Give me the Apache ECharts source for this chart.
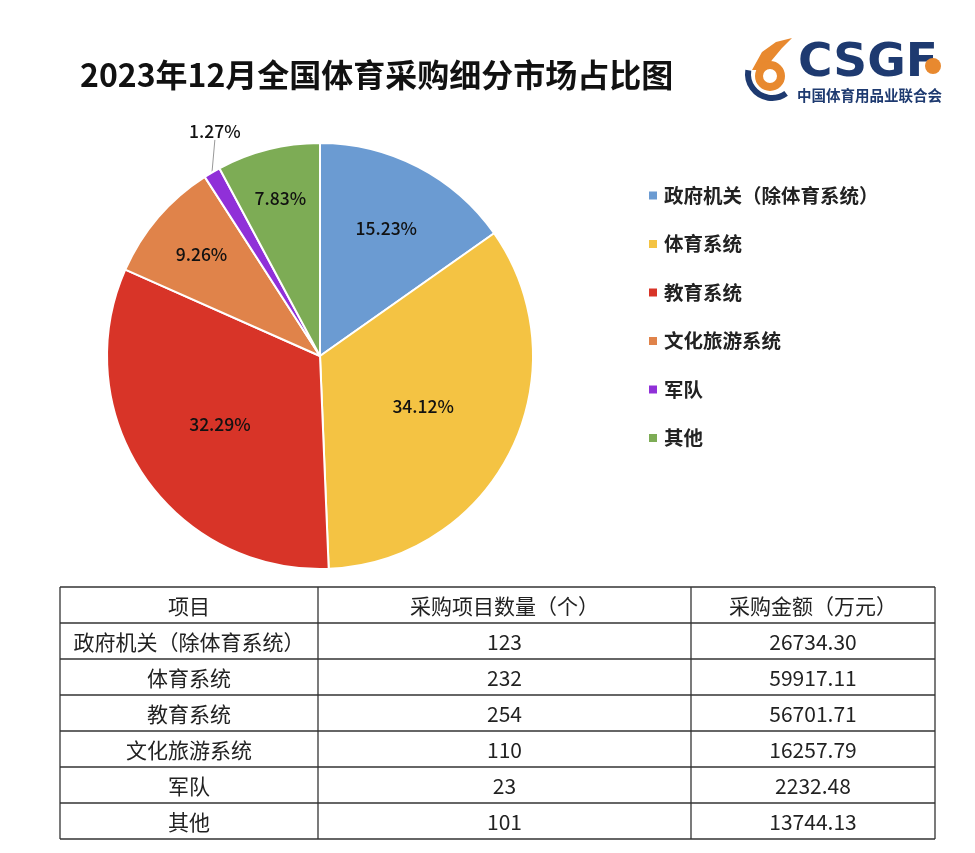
<!DOCTYPE html>
<html>
<head>
<meta charset="utf-8">
<script src="https://cdn.jsdelivr.net/npm/echarts@6/dist/echarts.min.js"></script>
<style>
  html, body { margin: 0; padding: 0; background: #fff; }
  #chart { width: 975px; height: 853px; }
</style>
</head>
<body>
<div id="chart"></div>
<script>
// data
const categories = ['政府机关（除体育系统）', '体育系统', '教育系统', '文化旅游系统', '军队', '其他'];
const projectCounts = [123, 232, 254, 110, 23, 101];
const amounts = [26734.30, 59917.11, 56701.71, 16257.79, 2232.48, 13744.13];
const tableHeaders = ['项目', '采购项目数量（个）', '采购金额（万元）'];
const titleText = '2023年12月全国体育采购细分市场占比图';

const colors = ['#6b9bd2', '#f4c343', '#d83428', '#e0834a', '#9030d8', '#7dac55'];
const FONT = '"Noto Sans CJK SC", "Noto Sans", sans-serif';
const NAVY = '#1e3a70';
const ORANGE = '#e8892f';

// pie layout
const pieCenter = [320, 356];
const pieRadius = 213;
// how far from the centre each inside label sits (px)
const labelDist = [144, 115, 121, 156, 0, 163];

// table layout
const colX = [60, 318, 691, 935];
const tableTop = 587;
const rowH = 36;

const chart = echarts.init(document.getElementById('chart'));

function tableGraphics() {
    const els = [];
    const rows = [tableHeaders].concat(categories.map((c, i) => [c, String(projectCounts[i]), amounts[i].toFixed(2)]));
    const bottom = tableTop + rowH * rows.length;
    for (let r = 0; r <= rows.length; r++) {
        const y = tableTop + r * rowH;
        els.push({ type: 'line', shape: { x1: colX[0], y1: y, x2: colX[3], y2: y },
            style: { stroke: '#333', lineWidth: 1.3 } });
    }
    colX.forEach(x => {
        els.push({ type: 'line', shape: { x1: x, y1: tableTop, x2: x, y2: bottom },
            style: { stroke: '#333', lineWidth: 1.3 } });
    });
    rows.forEach((row, r) => {
        row.forEach((txt, c) => {
            els.push({ type: 'text', style: {
                text: txt, x: (colX[c] + colX[c + 1]) / 2, y: tableTop + r * rowH + rowH / 2 + 1,
                align: 'center', verticalAlign: 'middle',
                font: '21px ' + FONT, fill: '#222'
            } });
        });
    });
    return els;
}

function logoGraphics() {
    return [
        { type: 'polygon', shape: { points: [[752, 70], [762, 52], [776, 42], [792, 38], [782, 48], [772, 60], [766, 70]] },
          style: { fill: ORANGE } },
        { type: 'ring', shape: { cx: 770, cy: 76, r: 15, r0: 7 }, style: { fill: ORANGE } },
        { type: 'arc', shape: { cx: 772, cy: 74, r: 24, startAngle: Math.PI * 0.3, endAngle: Math.PI * 1.05 },
          style: { stroke: NAVY, lineWidth: 6, fill: null } },
        { type: 'text', style: { text: 'CSGF', x: 798, y: 64, verticalAlign: 'middle',
            font: 'bold 47px "DejaVu Sans", sans-serif', fill: NAVY } },
        { type: 'circle', shape: { cx: 933, cy: 66, r: 8 }, style: { fill: ORANGE } },
        { type: 'text', style: { text: '中国体育用品业联合会', x: 797, y: 95, verticalAlign: 'middle',
            font: 'bold 14.5px ' + FONT, fill: NAVY } }
    ];
}

const option = {
    backgroundColor: '#fff',
    color: colors,
    animation: false,
    title: {
        text: titleText,
        left: 75,
        top: 54,
        textStyle: { fontFamily: FONT, fontSize: 32, fontWeight: 'bold', color: '#111' }
    },
    legend: {
        orient: 'vertical',
        left: 647,
        top: 185,
        padding: 0,
        itemWidth: 10,
        itemHeight: 10,
        itemGap: 27.5,
        icon: 'rect',
        data: categories,
        textStyle: { fontFamily: FONT, fontSize: 19.5, fontWeight: 'bold', color: '#222',
            lineHeight: 21, padding: [0, 0, 0, 1] }
    },
    series: [{
        type: 'pie',
        center: pieCenter,
        radius: pieRadius,
        startAngle: 90,
        clockwise: true,
        itemStyle: { borderColor: '#fff', borderWidth: 2 },
        label: {
            show: true,
            position: 'inside',
            formatter: '{d}%',
            fontFamily: FONT,
            fontSize: 17.5,
            fontWeight: 500,
            color: '#111'
        },
        labelLine: { show: false },
        labelLayout: function (params) {
            const i = params.dataIndex;
            if (i === 4) {
                const pts = params.labelLinePoints;
                if (!pts) return {};
                return { x: pts[pts.length - 1][0] + 12, y: pts[pts.length - 1][1] - 17,
                    align: 'center', verticalAlign: 'bottom' };
            }
            const r = params.labelRect;
            const vx = r.x + r.width / 2 - pieCenter[0];
            const vy = r.y + r.height / 2 - pieCenter[1];
            const len = Math.sqrt(vx * vx + vy * vy) || 1;
            return {
                x: pieCenter[0] + vx / len * labelDist[i],
                y: pieCenter[1] + vy / len * labelDist[i],
                align: 'center', verticalAlign: 'middle'
            };
        },
        data: categories.map((name, i) => {
            const item = { name: name, value: amounts[i] };
            if (i === 4) {
                item.label = { position: 'outside', color: '#111' };
                item.labelLine = { show: true, length: 18, length2: 0, lineStyle: { color: '#999', width: 1 } };
            }
            return item;
        })
    }],
    graphic: logoGraphics().concat(tableGraphics())
};

chart.setOption(option);
</script>
</body>
</html>
